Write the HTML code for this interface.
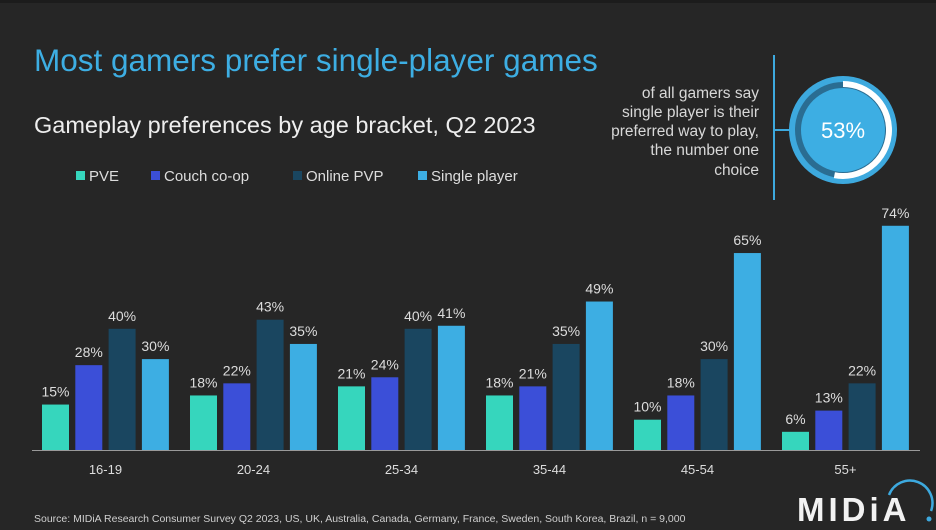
<!DOCTYPE html>
<html><head><meta charset="utf-8"><style>
html,body{margin:0;padding:0;background:#262626;}
svg{display:block;font-family:"Liberation Sans",sans-serif;}
</style></head><body>
<svg width="936" height="530" viewBox="0 0 936 530">
<rect x="0" y="0" width="936" height="530" fill="#262626"/>
<rect x="0" y="0" width="936" height="3" fill="#1c1c1c"/>
<text x="34" y="71" fill="#3daee3" font-size="31.5">Most gamers prefer single-player games</text>
<text x="34" y="133" fill="#eeeeee" font-size="23.5">Gameplay preferences by age bracket, Q2 2023</text>
<g id="legend"></g>
<line x1="774" y1="55" x2="774" y2="200" stroke="#3da9de" stroke-width="2"/>
<line x1="774" y1="130" x2="791" y2="130" stroke="#3da9de" stroke-width="2"/>
<g font-size="15.5" fill="#d8d8d8" text-anchor="end">
<text x="759" y="98">of all gamers say</text>
<text x="759" y="117">single player is their</text>
<text x="759" y="136">preferred way to play,</text>
<text x="759" y="155">the number one</text>
<text x="759" y="175">choice</text>
</g>
<g id="donut"></g>
<g id="bars"></g>
<text x="34" y="522" fill="#cfcfcf" font-size="10.5">Source: MIDiA Research Consumer Survey Q2 2023, US, UK, Australia, Canada, Germany, France, Sweden, South Korea, Brazil, n = 9,000</text>
<text x="797" y="521" fill="#f2f2f2" font-size="33" font-weight="bold" letter-spacing="4">MIDiA</text>
<path d="M889 495 A22 22 0 0 1 931 511" fill="none" stroke="#3da9de" stroke-width="2.5"/>
<circle cx="929" cy="519" r="2.5" fill="#3da9de"/>
</svg>
<script>
const categories=["16-19","20-24","25-34","35-44","45-54","55+"];
const seriesNames=["PVE","Couch co-op","Online PVP","Single player"];
const pve=[15,18,21,18,10,6];
const couch=[28,22,24,21,18,13];
const online=[40,43,40,35,30,22];
const single=[30,35,41,49,65,74];
const donutValue=53;
const colors=["#36d6bd","#3b4fd8","#1a4660","#3daee3"];
const NS="http://www.w3.org/2000/svg";
function mk(t,a,p){const e=document.createElementNS(NS,t);for(const k in a)e.setAttribute(k,a[k]);p.appendChild(e);return e;}
const baseY=450,scale=3.03,groupX0=42,groupStep=148,barW=27,barStep=33.3;
function yScale(v){return baseY-v*scale;}
function xPos(g,s){return groupX0+g*groupStep+s*barStep;}
const bars=document.getElementById('bars');
const all=[pve,couch,online,single];
all.forEach((arr,s)=>{arr.forEach((v,g)=>{
 const r=mk('rect',{x:xPos(g,s),y:yScale(v),width:barW,height:v*scale,fill:colors[s]},bars);
 
 
 const t=mk('text',{x:xPos(g,s)+barW/2,y:yScale(v)-8,'text-anchor':'middle','font-size':14,fill:'#dddddd'},bars);
 t.textContent=v+'%';
 
 
});});
const ax=mk('line',{x1:32,y1:baseY+0.5,x2:920,y2:baseY+0.5,stroke:'#999',"stroke-width":1},bars);


categories.forEach((c,g)=>{
 const t=mk('text',{x:xPos(g,0)+(barStep*3+barW)/2,y:474,'text-anchor':'middle','font-size':13,fill:'#dddddd'},bars);
 t.textContent=c;
 
 
});
const lg=document.getElementById('legend');
const lx=[76,151,293,418];
seriesNames.forEach((n,i)=>{
 const r=mk('rect',{x:lx[i],y:171,width:9,height:9,fill:colors[i]},lg);
 
 
 const t=mk('text',{x:lx[i]+13,y:181,'font-size':15,fill:'#dddddd'},lg);
 t.textContent=n;
 
 
});
const d=document.getElementById('donut');
const cx=843,cy=130;
mk('circle',{cx:cx,cy:cy,r:54,fill:'#3da9de'},d);
mk('circle',{cx:cx,cy:cy,r:48,fill:'#2a6d92'},d);
const rr=46,frac=donutValue/100,a=2*Math.PI*frac;
mk('path',{d:`M${cx} ${cy-rr} A${rr} ${rr} 0 ${frac>0.5?1:0} 1 ${cx+rr*Math.sin(a)} ${cy-rr*Math.cos(a)}`,fill:'none',stroke:'#ffffff','stroke-width':6},d);
mk('circle',{cx:cx,cy:cy,r:42,fill:'#3daee3'},d);
const dt=mk('text',{x:cx,y:cy+8,'text-anchor':'middle','font-size':22,fill:'#ffffff'},d);
dt.textContent=donutValue+'%';


</script>
</body></html>
